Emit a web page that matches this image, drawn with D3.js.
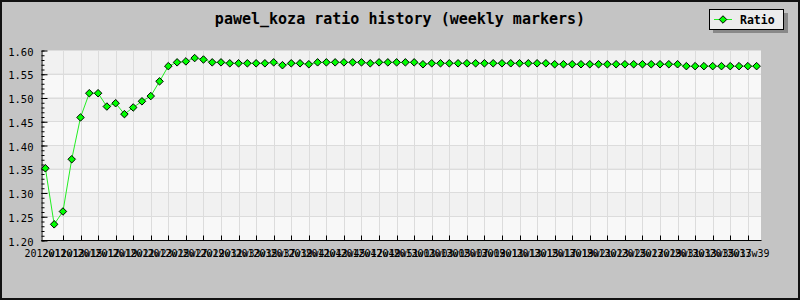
<!DOCTYPE html>
<html>
<head>
<meta charset="utf-8">
<script src="https://cdn.jsdelivr.net/npm/d3@7"></script>
<style>
  html, body { margin: 0; padding: 0; background: #c4c4c4; }
  svg { display: block; }
</style>
</head>
<body>
<svg id="chart" width="800" height="300"></svg>
<script>
(function(d3) {
    'use strict';

    // weekly labels, 2012w11 .. 2013w40
    var weeks = [];
    for (var k = 0; k < 82; k++) {
        var wk = 11 + k;
        var yr = 2012;
        if (wk > 52) { wk -= 52; yr = 2013; }
        weeks.push(yr + 'w' + (wk < 10 ? '0' : '') + wk);
    }

    var ratio = [
        1.351, 1.233, 1.260, 1.370, 1.458, 1.509, 1.509, 1.481, 1.488, 1.465,
        1.479, 1.492, 1.503, 1.534, 1.566, 1.574, 1.576, 1.583, 1.580, 1.574,
        1.574, 1.572, 1.572, 1.572, 1.572, 1.572, 1.574, 1.568, 1.572, 1.572,
        1.570, 1.574, 1.574, 1.574, 1.574, 1.574, 1.574, 1.572, 1.574, 1.574,
        1.574, 1.574, 1.574, 1.570, 1.572, 1.572, 1.572, 1.572, 1.572, 1.572,
        1.572, 1.572, 1.572, 1.572, 1.572, 1.572, 1.572, 1.572, 1.570, 1.570,
        1.570, 1.570, 1.570, 1.570, 1.570, 1.570, 1.570, 1.570, 1.570, 1.570,
        1.570, 1.570, 1.570, 1.566, 1.566, 1.566, 1.566, 1.566, 1.566, 1.566,
        1.566, 1.566
    ];

    var yMajor = [1.20, 1.25, 1.30, 1.35, 1.40, 1.45, 1.50, 1.55, 1.60];
    var yMinor = d3.range(120, 161).map(function(v) { return v / 100; });

    var left = 41, right = 761, top = 50, bottom = 240;
    var mono = '"DejaVu Sans Mono", "Liberation Mono", monospace';

    var svg = d3.select('#chart');

    svg.append('rect')
        .attr('x', 1).attr('y', 1)
        .attr('width', 798).attr('height', 298)
        .attr('fill', '#c4c4c4')
        .attr('stroke', '#111').attr('stroke-width', 2);

    var x = d3.scaleBand().domain(weeks).range([left, right]).paddingInner(0).paddingOuter(0);
    var y = d3.scaleLinear().domain([1.2, 1.6]).range([bottom, top]);
    var cx = function(w) { return x(w) + x.bandwidth() / 2; };

    var plot = svg.append('g');

    // alternating bands
    for (var b = 0; b < yMajor.length - 1; b++) {
        plot.append('rect')
            .attr('x', left).attr('width', right - left)
            .attr('y', y(yMajor[b + 1])).attr('height', y(yMajor[b]) - y(yMajor[b + 1]))
            .attr('fill', (yMajor.length - 2 - b) % 2 === 0 ? '#f1f1f1' : '#f8f8f8');
    }

    var tickWeeks = weeks.filter(function(w, i) { return i % 2 === 0 && i > 0; });
    var labelWeeks = weeks.filter(function(w, i) { return i % 2 === 0; });

    plot.selectAll('line.vgrid').data(tickWeeks).enter().append('line')
        .attr('class', 'vgrid')
        .attr('x1', function(d) { return Math.round(cx(d)) + 0.5; })
        .attr('x2', function(d) { return Math.round(cx(d)) + 0.5; })
        .attr('y1', top).attr('y2', bottom)
        .attr('stroke', '#dcdcdc');

    plot.selectAll('line.hgrid').data(yMajor.slice(1)).enter().append('line')
        .attr('class', 'hgrid')
        .attr('x1', left).attr('x2', right)
        .attr('y1', function(d) { return Math.round(y(d)) + 0.5; })
        .attr('y2', function(d) { return Math.round(y(d)) + 0.5; })
        .attr('stroke', '#dcdcdc');

    // y axis: minor ticks, then majors with labels
    svg.append('g')
        .attr('transform', 'translate(' + (left + 0.5) + ',0.5)')
        .call(d3.axisLeft(y).tickValues(yMinor).tickSizeInner(-3).tickSizeOuter(0).tickFormat(''))
        .call(function(g) { g.select('.domain').remove(); });

    var yAxis = svg.append('g')
        .attr('transform', 'translate(' + (left + 0.5) + ',0.5)')
        .call(d3.axisLeft(y).tickValues(yMajor).tickSizeInner(-6).tickSizeOuter(0)
            .tickPadding(8).tickFormat(d3.format('.2f')));
    yAxis.selectAll('text')
        .attr('font-family', mono).attr('font-size', '10.5px').attr('fill', '#000')
        .attr('dy', '0.45em');

    // x axis
    var xAxis = svg.append('g')
        .attr('transform', 'translate(0.5,' + (bottom + 0.5) + ')')
        .call(d3.axisBottom(x).tickValues(labelWeeks).tickSizeInner(-5).tickSizeOuter(0)
            .tickPadding(9));
    xAxis.selectAll('.tick')
        .attr('transform', function(d) { return 'translate(' + Math.round(cx(d)) + ',0)'; });
    xAxis.selectAll('.tick').filter(function(d) { return d === weeks[0]; })
        .select('line').remove();
    xAxis.selectAll('text')
        .attr('font-family', mono).attr('font-size', '10px').attr('fill', '#000');
    xAxis.select('.domain').attr('d', 'M' + left + ',0H' + right);

    svg.selectAll('.domain').attr('stroke', '#000');
    svg.selectAll('.tick line').attr('stroke', '#000');

    // series
    var line = d3.line()
        .x(function(d, i) { return cx(weeks[i]); })
        .y(function(d) { return y(d); });

    svg.append('path')
        .datum(ratio)
        .attr('d', line)
        .attr('fill', 'none')
        .attr('stroke', '#22ee22')
        .attr('stroke-width', 1);

    var diamond = d3.symbol().type(d3.symbolDiamond2).size(36);

    svg.selectAll('path.mark').data(ratio).enter().append('path')
        .attr('class', 'mark')
        .attr('d', diamond)
        .attr('transform', function(d, i) { return 'translate(' + cx(weeks[i]) + ',' + y(d) + ')'; })
        .attr('fill', '#00ff00')
        .attr('stroke', '#000')
        .attr('stroke-width', 1);

    // title
    svg.append('text')
        .attr('x', 400).attr('y', 24)
        .attr('text-anchor', 'middle')
        .attr('font-family', mono).attr('font-size', '15px').attr('font-weight', 'bold')
        .text('pawel_koza ratio history (weekly markers)');

    // legend
    var lg = svg.append('g');
    lg.append('rect')
        .attr('x', 713).attr('y', 13).attr('width', 75).attr('height', 20)
        .attr('fill', '#888');
    lg.append('rect')
        .attr('x', 709.5).attr('y', 9.5).attr('width', 74).attr('height', 20)
        .attr('fill', '#ececec').attr('stroke', '#000');
    lg.append('line')
        .attr('x1', 714).attr('x2', 732).attr('y1', 19.5).attr('y2', 19.5)
        .attr('stroke', '#22ee22');
    lg.append('path')
        .attr('d', diamond)
        .attr('transform', 'translate(723,19.5)')
        .attr('fill', '#00ff00').attr('stroke', '#000');
    lg.append('text')
        .attr('x', 740).attr('y', 24)
        .attr('font-family', mono).attr('font-size', '11.5px').attr('font-weight', 'bold')
        .text('Ratio');
}(d3));
</script>
</body>
</html>
